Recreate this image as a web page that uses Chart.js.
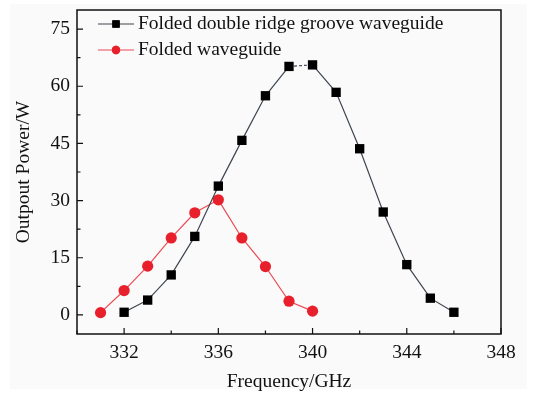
<!DOCTYPE html>
<html>
<head>
<meta charset="utf-8">
<script src="https://cdn.jsdelivr.net/npm/chart.js@4"></script>
<style>
  html, body { margin: 0; padding: 0; background: #fff; }
  #wrap { width: 534px; height: 394px; }
</style>
</head>
<body>
<div id="wrap"><canvas id="chart" width="534" height="394"></canvas></div>
<script>
// data
const ridgeFreq = [332, 333, 334, 335, 336, 337, 338, 339, 340, 341, 342, 343, 344, 345, 346];
const ridgePower = [0.7, 3.9, 10.5, 20.6, 33.8, 45.8, 57.5, 65.2, 65.6, 58.4, 43.6, 27.0, 13.2, 4.4, 0.7];
const foldedFreq = [331, 332, 333, 334, 335, 336, 337, 338, 339, 340];
const foldedPower = [0.6, 6.4, 12.8, 20.2, 26.8, 30.2, 20.2, 12.7, 3.6, 1.0];
const xTicks = [332, 336, 340, 344, 348];
const xMinor = [330, 334, 338, 342, 346];
const yTicks = [0, 15, 30, 45, 60, 75];
const yMinor = [7.5, 22.5, 37.5, 52.5, 67.5];
const seriesNames = ["Folded double ridge groove waveguide", "Folded waveguide"];

const FONT = "'Liberation Serif', 'Times New Roman', serif";
const FS = 19.5;
const BLACK_LINE = '#3f4650';
const RED = '#e8202c';
const RED_LINE = '#ee4a55';

const toXY = (xs, ys) => xs.map((x, i) => ({ x, y: ys[i] }));

// background, frame, inward ticks, inner legend
const decor = {
  id: 'decor',
  beforeDraw(chart) {
    const ctx = chart.ctx;
    ctx.save();
    ctx.fillStyle = '#fafafa';
    ctx.fillRect(10, 4, chart.width - 17, chart.height - 9);
    ctx.restore();
  },
  afterDatasetsDraw(chart) {
    const { ctx, chartArea: a, scales: { x, y } } = chart;
    ctx.save();
    ctx.strokeStyle = '#111';
    ctx.lineWidth = 1.5;
    ctx.strokeRect(a.left, a.top, a.right - a.left, a.bottom - a.top);
    ctx.lineWidth = 1.2;
    ctx.beginPath();
    xTicks.forEach(v => { const px = x.getPixelForValue(v); ctx.moveTo(px, a.bottom); ctx.lineTo(px, a.bottom - 6); });
    xMinor.forEach(v => { const px = x.getPixelForValue(v); ctx.moveTo(px, a.bottom); ctx.lineTo(px, a.bottom - 3.5); });
    yTicks.forEach(v => { const py = y.getPixelForValue(v); ctx.moveTo(a.left, py); ctx.lineTo(a.left + 6, py); });
    yMinor.forEach(v => { const py = y.getPixelForValue(v); ctx.moveTo(a.left, py); ctx.lineTo(a.left + 3.5, py); });
    ctx.stroke();

    // legend
    const rows = [
      { label: seriesNames[0], line: BLACK_LINE, fill: '#000', style: 'rect', r: 5.2 },
      { label: seriesNames[1], line: RED_LINE, fill: RED, style: 'circle', r: 4.2 }
    ];
    const lx0 = a.left + 21, lx1 = a.left + 57, ty = a.top + 14;
    rows.forEach((row, i) => {
      const cy = ty + i * 26;
      ctx.strokeStyle = row.line;
      ctx.lineWidth = 1.2;
      ctx.beginPath(); ctx.moveTo(lx0, cy); ctx.lineTo(lx1, cy); ctx.stroke();
      ctx.fillStyle = row.fill;
      Chart.helpers.drawPoint(ctx, { pointStyle: row.style, radius: row.r, borderWidth: 0 }, (lx0 + lx1) / 2, cy);
      ctx.fill();
      ctx.fillStyle = '#111';
      ctx.font = FS + 'px ' + FONT;
      ctx.textBaseline = 'middle';
      ctx.fillText(row.label, lx1 + 4, cy);
    });
    ctx.restore();
  }
};

new Chart(document.getElementById('chart'), {
  type: 'scatter',
  data: {
    datasets: [
      {
        label: seriesNames[0],
        data: toXY(ridgeFreq, ridgePower),
        showLine: true,
        borderColor: BLACK_LINE,
        borderWidth: 1.2,
        backgroundColor: '#000',
        pointBackgroundColor: '#000',
        pointBorderWidth: 0,
        pointStyle: 'rect',
        pointRadius: 6.6,
        segment: {
          borderDash: ctx => (ctx.p0DataIndex === 7 ? [3, 2] : undefined)
        }
      },
      {
        label: seriesNames[1],
        data: toXY(foldedFreq, foldedPower),
        showLine: true,
        borderColor: RED_LINE,
        borderWidth: 1.2,
        backgroundColor: RED,
        pointBackgroundColor: RED,
        pointBorderWidth: 0,
        pointStyle: 'circle',
        pointRadius: 5.6
      }
    ]
  },
  options: {
    responsive: false,
    animation: false,
    layout: { padding: { left: 8, right: 33, top: 10, bottom: 0 } },
    plugins: { legend: { display: false }, tooltip: { enabled: false } },
    scales: {
      x: {
        type: 'linear',
        min: 330,
        max: 348,
        afterBuildTicks: s => { s.ticks = xTicks.map(v => ({ value: v })); },
        afterFit: s => { s.height = 60; },
        grid: { display: false, drawTicks: false },
        border: { display: false },
        ticks: { color: '#111', padding: 7, font: { family: FONT, size: FS } },
        title: { display: true, text: 'Frequency/GHz', color: '#111', padding: { top: 5, bottom: 0 }, font: { family: FONT, size: FS } }
      },
      y: {
        type: 'linear',
        min: -5,
        max: 80,
        afterBuildTicks: s => { s.ticks = yTicks.map(v => ({ value: v })); },
        afterFit: s => { s.width = 69; s.paddingTop = 0; s.paddingBottom = 0; },
        grid: { display: false, drawTicks: false },
        border: { display: false },
        ticks: { color: '#111', padding: 7, font: { family: FONT, size: FS } },
        title: { display: true, text: 'Outpout Power/W', color: '#111', padding: { bottom: 2 }, font: { family: FONT, size: FS } }
      }
    }
  },
  plugins: [decor]
});
</script>
</body>
</html>
